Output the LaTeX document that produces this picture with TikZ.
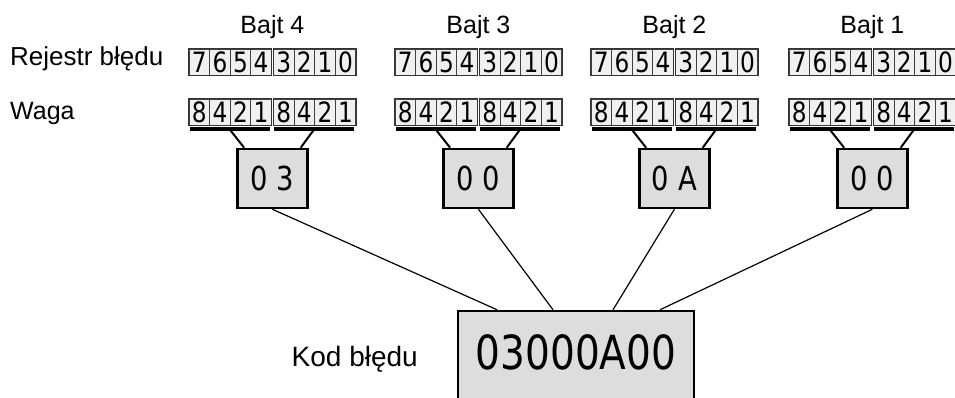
\documentclass[tikz,border=0pt]{standalone}
\usepackage{fontspec}
\setmainfont{Liberation Sans}
\newfontfamily\Cyfry[FakeStretch=0.83]{DejaVu Sans}
\usepackage{xcolor}
\usepackage{tikz}
\definecolor{tloKomorki}{HTML}{F0F0F0}
\definecolor{tloBajtu}{HTML}{DDDDDD}

\begin{document}
\begin{tikzpicture}[x=1pt,y=-1pt,
    komorka/.style={draw=black!75,fill=tloKomorki,line width=0.8pt,
                    minimum width=20.6pt,minimum height=26pt,inner sep=0pt,
                    font=\Cyfry\fontsize{28}{28}\selectfont},
    bajtHex/.style={draw,fill=tloBajtu,line width=2.5pt,
                    minimum width=70pt,minimum height=59pt,inner sep=0pt,
                    font=\Cyfry\fontsize{33}{33}\selectfont},
    opis/.style={inner sep=0pt,font=\fontsize{25}{25}\selectfont}]

        \useasboundingbox (0,0) rectangle (955,397);
        \clip (0,0) rectangle (955,397);

            % Opisy wierszy
        \node[opis,font=\fontsize{26}{26}\selectfont,anchor=base west] (rejestr) at (10,65) {Rejestr błędu};
        \node[opis,anchor=base west] (waga) at (10,119) {Waga};

            % Kod bledu
        \node[draw,fill=tloBajtu,line width=2.5pt,minimum width=236pt,minimum height=90pt,
              inner sep=0pt,text height=34.3pt,text depth=8pt,
              font=\Cyfry\fontsize{47}{47}\selectfont] (kod) at (576,356) {03000A00};
        \node[opis,font=\fontsize{28}{28}\selectfont,anchor=base east] (kodOpis) at (418,366) {Kod błędu};

            % Bajty
        \foreach \nr/\xp/\hex/\dx in {4/189/0 3/-79, 3/395/0 0/-23, 2/591/0 A/37, 1/789/0 0/84}{
            \pgfmathsetmacro{\xs}{\xp+83.4}
            \node[opis,anchor=base] (bajt\nr) at (\xs,33) {Bajt \nr};
            \foreach \h in {0,1}{
                \foreach \c in {0,...,3}{
                    \pgfmathsetmacro{\xc}{\xp+10.3+\h*84.4+\c*20.6}
                    \pgfmathtruncatemacro{\bit}{7-4*\h-\c}
                    \pgfmathtruncatemacro{\w}{2^(3-\c)}
                    \node[komorka] (r\nr-\bit) at (\xc,62) {\bit};
                    \node[komorka] (w\nr-\h-\c) at (\xc,112) {\w};
                }
                \draw[draw=black!80,line width=1pt] (r\nr-\the\numexpr7-4*\h\relax.north west)
                      rectangle (r\nr-\the\numexpr4-4*\h\relax.south east);
                \draw[draw=black!80,line width=1pt] (w\nr-\h-0.north west)
                      rectangle (w\nr-\h-3.south east);
                    % Podkreslenie polbajtu
                \draw[line width=4pt] ([xshift=1pt,yshift=-4pt]w\nr-\h-0.south west)
                      -- coordinate[midway] (u\nr-\h) ([xshift=-2pt,yshift=-4pt]w\nr-\h-3.south east);
            }
            \node[bajtHex] (hex\nr) at (\xs,178.5) {\hex};
            \draw[line width=2pt] (u\nr-0) -- ([xshift=8pt]hex\nr.north west);
            \draw[line width=2pt] (u\nr-1) -- ([xshift=-8pt]hex\nr.north east);
            \draw[line width=1.2pt] (hex\nr.south) -- ([xshift=\dx pt]kod.north);
        }

\end{tikzpicture}
\end{document}
